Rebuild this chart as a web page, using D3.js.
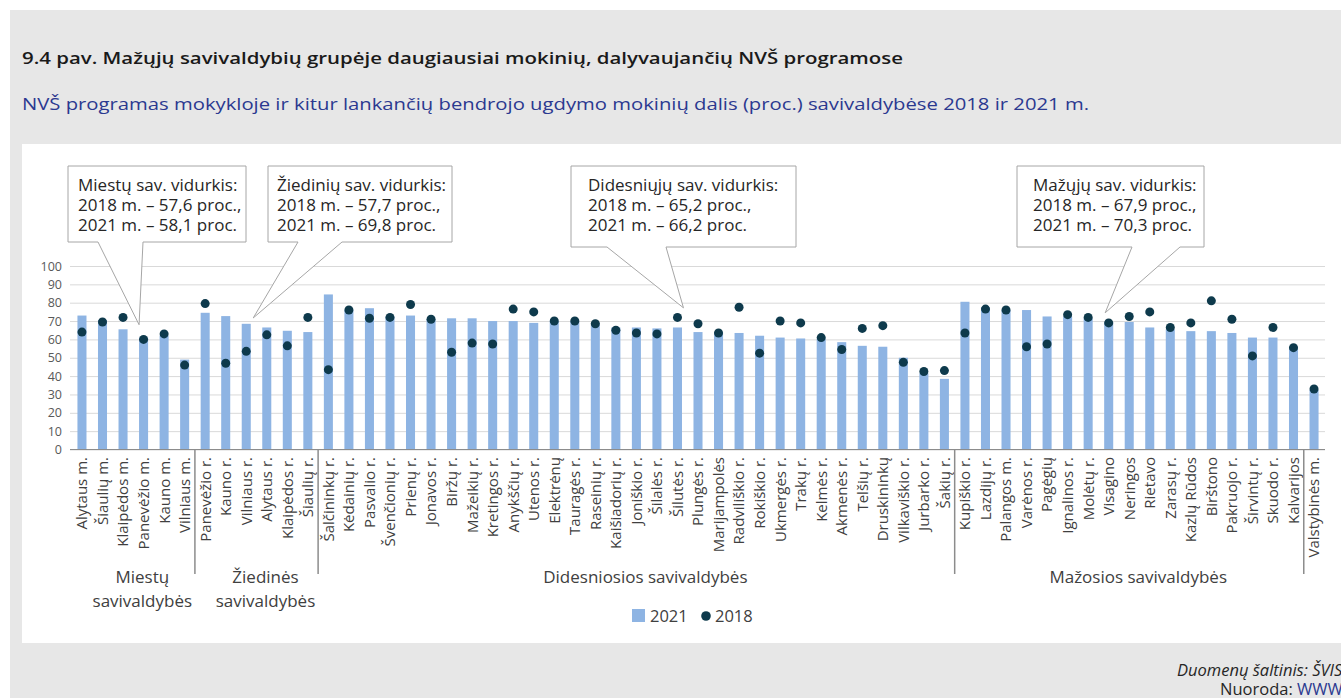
<!DOCTYPE html>
<html><head><meta charset="utf-8">
<script src="https://cdn.jsdelivr.net/npm/d3@7"></script>
<style>
html,body{margin:0;padding:0;background:#fff;overflow:hidden;}
text{font-family:"Open Sans",sans-serif;}
</style></head>
<body>
<svg id="c" width="1341" height="698"></svg>
<script>
const categories = ["Alytaus m.","Šiaulių m.","Klaipėdos m.","Panevėžio m.","Kauno m.","Vilniaus m.",
"Panevėžio r.","Kauno r.","Vilniaus r.","Alytaus r.","Klaipėdos r.","Šiaulių r.",
"Šalčininkų r.","Kėdainių r.","Pasvalio r.","Švenčionių r.","Prienų r.","Jonavos r.","Biržų r.","Mažeikių r.","Kretingos r.","Anykščių r.","Utenos r.","Elektrėnų","Tauragės r.","Raseinių r.","Kaišiadorių r.","Joniškio r.","Šilalės r.","Šilutės r.","Plungės r.","Marijampolės","Radviliškio r.","Rokiškio r.","Ukmergės r.","Trakų r.","Kelmės r.","Akmenės r.","Telšių r.","Druskininkų","Vilkaviškio r.","Jurbarko r.","Šakių r.",
"Kupiškio r.","Lazdijų r.","Palangos m.","Varėnos r.","Pagėgių","Ignalinos r.","Molėtų r.","Visagino","Neringos","Rietavo","Zarasų r.","Kazlų Rūdos","Birštono","Pakruojo r.","Širvintų r.","Skuodo r.","Kalvarijos",
"Valstybinės m."];
const values2021 = [73,70.5,65.5,61,62,49,
74.5,72.7,68.5,66.5,64.7,64,
84.5,76,77,72.5,73,71,71.5,71.5,70,70,69,70,70,69,66.5,66.5,66,66.5,64,64,63.5,62,61,60.5,60.5,58.5,56.5,56,50,41.5,38.5,
80.5,77.5,76,76,72.5,72.5,71.5,69.5,69.5,66.5,65.5,64.5,64.5,63.5,61,61,56,
32.5];
const values2018 = [64,69.5,72,60,63,46,
79.5,47,53.5,62.5,56.5,72,
43.5,76,71.5,72,79,71,53,58,57.5,76.5,75,70,70,68.5,65,63.5,63,72,68.5,63.5,77.5,52.5,70,69,61,54.5,66,67.5,47.5,42.5,43,
63.5,76.5,76,56,57.5,73.5,72,69,72.5,75,66.5,69,81,71,51,66.5,55.5,
33];
const groupNames = [["Miestų","savivaldybės"],["Žiedinės","savivaldybės"],["Didesniosios savivaldybės"],["Mažosios savivaldybės"],[""]];
const groupSizes = [6,6,31,17,1];
const yTicks = [0,10,20,30,40,50,60,70,80,90,100];
const seriesNames = ["2021","2018"];
const callouts = [
  {lines:["Miestų sav. vidurkis:","2018 m. – 57,6 proc.,","2021 m. – 58,1 proc."], target:"Panevėžio m.", tipValue:68},
  {lines:["Žiedinių sav. vidurkis:","2018 m. – 57,7 proc.,","2021 m. – 69,8 proc."], target:"Vilniaus r.", tipValue:71.7},
  {lines:["Didesniųjų sav. vidurkis:","2018 m. – 65,2 proc.,","2021 m. – 66,2 proc."], target:"Šilutės r.", tipValue:77.2},
  {lines:["Mažųjų sav. vidurkis:","2018 m. – 67,9 proc.,","2021 m. – 70,3 proc."], target:"Visagino", tipValue:74.5}
];

// layout (not data)
const calloutBoxes = [
  {l:68,t:166,r:246,b:242,p1:98,p2:143,dx:-4.5,pad:10},
  {l:268,t:166,r:452,b:242,p1:298,p2:342,dx:7,pad:9},
  {l:571,t:166,r:796,b:247,p1:607,p2:666,dx:6,pad:17},
  {l:1017,t:166,r:1204,b:247,p1:1132,p2:1180,dx:-3.5,pad:16}
];

const svg = d3.select("#c");
const barColor = "#8eb4e3", dotColor = "#0e3a4c";

// background panels
svg.append("rect").attr("x",10).attr("y",10).attr("width",1341).attr("height",698).attr("fill","#e7e7e7");
svg.append("rect").attr("x",22).attr("y",144).attr("width",1330).attr("height",499).attr("fill","#ffffff");

// titles
svg.append("text").attr("x",22).attr("y",64).attr("font-size",17).attr("font-weight",600).attr("fill","#1a1a1a")
  .attr("textLength",881).attr("lengthAdjust","spacingAndGlyphs")
  .text("9.4 pav. Mažųjų savivaldybių grupėje daugiausiai mokinių, dalyvaujančių NVŠ programose");
svg.append("text").attr("x",22).attr("y",110).attr("font-size",17).attr("fill","#2b3990")
  .attr("textLength",1067).attr("lengthAdjust","spacingAndGlyphs")
  .text("NVŠ programas mokykloje ir kitur lankančių bendrojo ugdymo mokinių dalis (proc.) savivaldybėse 2018 ir 2021 m.");

const x = d3.scaleBand().domain(categories).range([71.7,1324.3]).paddingInner(0.56).paddingOuter(0.28);
const y = d3.scaleLinear().domain([0,100]).range([449.5,266]);
const cx = d => x(d) + x.bandwidth()/2;

// gridlines
const yAxis = d3.axisLeft(y).tickValues(yTicks).tickSize(-(1325-70)).tickPadding(8);
const ga = svg.append("g").attr("transform","translate(70,0)").call(yAxis);
ga.select(".domain").remove();
ga.selectAll(".tick line").attr("stroke","#d9d9d9").attr("stroke-width",1);
ga.selectAll(".tick text").attr("font-size",12.5).attr("fill","#595959").attr("x",-8).style("font-family","Open Sans");

// bars
svg.append("g").selectAll("rect").data(categories).join("rect")
  .attr("x",d=>x(d)).attr("width",x.bandwidth())
  .attr("y",(d,i)=>y(values2021[i])).attr("height",(d,i)=>y(0)-y(values2021[i]))
  .attr("fill",barColor);

// x axis line
svg.append("line").attr("x1",70).attr("x2",1325).attr("y1",y(0)).attr("y2",y(0)).attr("stroke","#8c8c8c").attr("stroke-width",1.2);

// dots
svg.append("g").selectAll("circle").data(categories).join("circle")
  .attr("cx",d=>cx(d)).attr("cy",(d,i)=>y(values2018[i])).attr("r",4.5).attr("fill",dotColor);

// category labels
svg.append("g").selectAll("text").data(categories).join("text")
  .attr("transform",d=>`translate(${cx(d)},457) rotate(-90)`)
  .attr("text-anchor","end").attr("dy","0.36em").attr("font-size",15).attr("fill","#404040")
  .text(d=>d);

// group separators and labels
let start = 0;
groupSizes.forEach((n,gi)=>{
  const first = categories[start], last = categories[start+n-1];
  const left = x(first) - x.step()*x.paddingInner()/2;
  const right = x(last) + x.bandwidth() + x.step()*x.paddingInner()/2;
  if (gi>0) {
    svg.append("line").attr("x1",left).attr("x2",left).attr("y1",450).attr("y2",574)
      .attr("stroke","#8c8c8c").attr("stroke-width",1.5);
  }
  const mid = (left+right)/2 + 9;
  groupNames[gi].forEach((ln,li)=>{
    svg.append("text").attr("x",mid).attr("y",583+li*24).attr("text-anchor","middle")
      .attr("font-size",17).attr("fill","#404040").text(ln);
  });
  start += n;
});

// legend
const lg = svg.append("g");
lg.append("rect").attr("x",632).attr("y",609).attr("width",13).attr("height",13).attr("fill",barColor);
lg.append("text").attr("x",650).attr("y",622).attr("font-size",16.5).attr("fill","#404040").text(seriesNames[0]);
lg.append("circle").attr("cx",706).attr("cy",616).attr("r",4.8).attr("fill",dotColor);
lg.append("text").attr("x",715).attr("y",622).attr("font-size",16.5).attr("fill","#404040").text(seriesNames[1]);

// callouts
callouts.forEach((c,i)=>{
  const b = calloutBoxes[i];
  const tx = cx(c.target) + b.dx, ty = y(c.tipValue);
  svg.append("path")
    .attr("d",`M${b.l},${b.t}H${b.r}V${b.b}H${b.p2}L${tx},${ty}L${b.p1},${b.b}H${b.l}Z`)
    .attr("fill","#fff").attr("stroke","#a6a6a6").attr("stroke-width",1);
  c.lines.forEach((ln,li)=>{
    svg.append("text").attr("x",b.l+b.pad).attr("y",b.t+25+li*20).attr("font-size",17).attr("fill","#262626").text(ln);
  });
});

// footer
svg.append("text").attr("x",1177).attr("y",676).attr("font-size",16.5).attr("font-style","italic").attr("fill","#262626").text("Duomenų šaltinis: ŠVIS");
const ft = svg.append("text").attr("x",1220).attr("y",695).attr("font-size",16.5).attr("fill","#262626");
ft.append("tspan").text("Nuoroda: ");
ft.append("tspan").attr("fill","#2b3990").text("WWW");
</script>
</body></html>
